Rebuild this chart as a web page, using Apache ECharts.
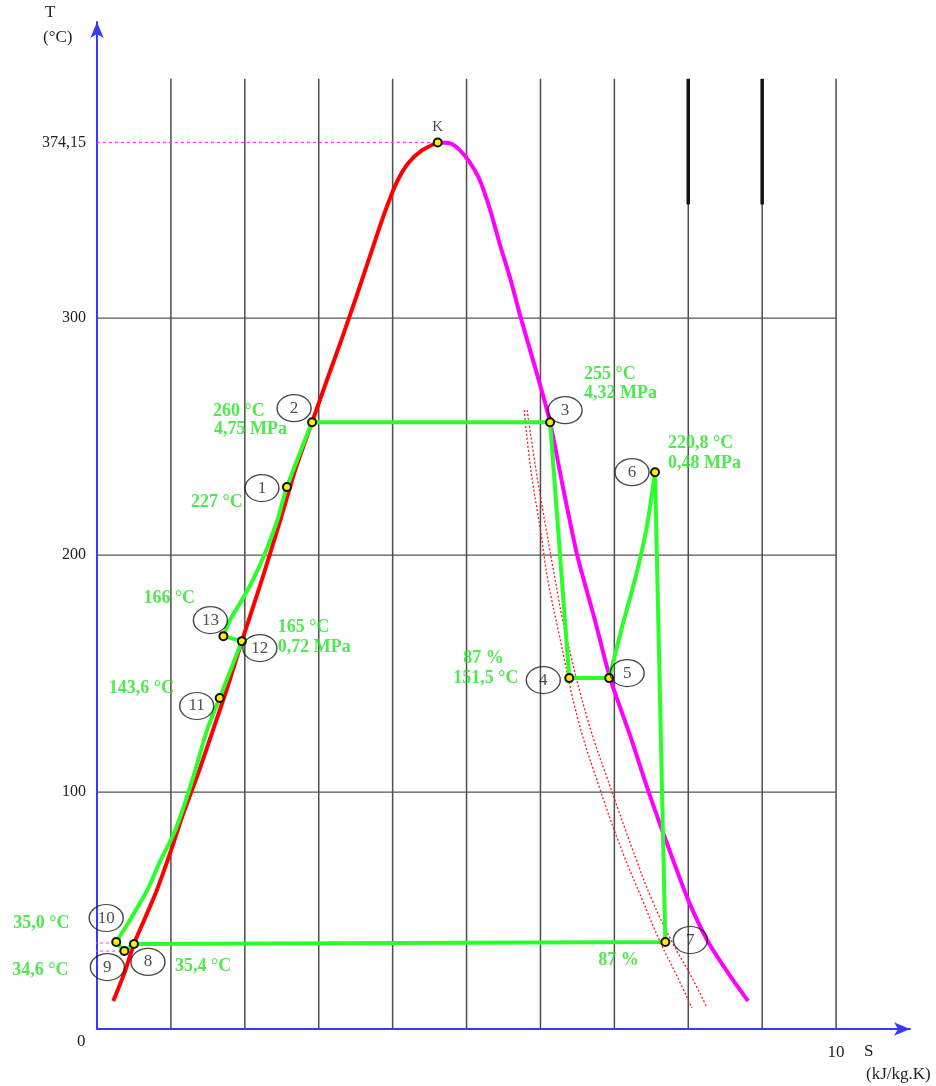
<!DOCTYPE html>
<html><head><meta charset="utf-8">
<script src="https://cdn.jsdelivr.net/npm/echarts@6/dist/echarts.min.js"></script>
<style>html,body{margin:0;padding:0;background:#fff}#c{width:936px;height:1086px}</style>
</head><body><div id="c"></div>
<script>
// ---------- data ----------
const xGridTicks = [1,2,3,4,5,6,7,8,9,10];
const yGridTicks = [100,200,300];
const yTickLabels = [100,200,300,374.15];
const xTickLabels = [0,10];
const gridTopT = 401;
const heavyTopS = [8,9];
const heavyTopFromT = 348;
const criticalT = 374.15;
const criticalS = 4.61;

// saturated liquid line (red), S [kJ/kg.K], T [°C]
const liquidLine = [[0.22,11.8],[0.37,23.6],[0.50,35.9],[0.65,46.8],[0.81,58.6],[0.99,74.3],[1.16,90.3],[1.37,108.0],[1.57,126.2],[1.77,144.7],[1.96,163.7],[2.23,189.5],[2.48,214.8],[2.69,236.7],[2.91,256.1],[3.11,273.8],[3.32,292.0],[3.52,310.1],[3.72,328.7],[3.88,343.5],[4.05,357.0],[4.21,365.4],[4.40,370.9],[4.61,374.15]];
// saturated vapour line (magenta)
const vaporLine = [[4.61,374.15],[4.78,373.8],[4.91,370.9],[5.05,365.4],[5.18,358.2],[5.32,345.6],[5.45,331.2],[5.59,316.9],[5.72,301.7],[5.86,286.5],[6.00,271.3],[6.13,256.1],[6.31,227.8],[6.50,199.6],[6.73,173.4],[6.94,148.3],[7.21,124.1],[7.46,100.4],[7.73,76.8],[8.00,54.4],[8.27,36.7],[8.54,23.6],[8.81,11.8]];
// expansion guide lines (red dotted)
const dottedA = [[5.78,261.2],[5.87,235.9],[6.00,210.5],[6.10,189.5],[6.24,168.4],[6.51,130.4],[6.81,100.8],[7.10,75.5],[7.38,54.4],[7.62,36.7],[7.84,22.8],[8.05,8.9]];
const dottedB = [[5.82,261.2],[5.94,235.9],[6.08,210.5],[6.20,189.5],[6.33,168.4],[6.64,130.4],[6.96,100.8],[7.25,75.5],[7.51,54.4],[7.78,36.7],[8.03,22.8],[8.25,9.3]];

// state points
const stateNames = ['1','2','3','4','5','6','7','8','9','10','11','12','13'];
const stateS = [2.57,2.91,6.13,6.39,6.93,7.55,7.69,0.50,0.37,0.26,1.66,1.96,1.71];
const stateT = [228.7,256.1,256.1,148.1,148.1,235.0,36.7,35.9,32.9,36.7,139.7,163.7,165.8];

// cycle path pieces (green)
const feedCurve = [[0.26,36.7],[0.38,42.6],[0.51,49.4],[0.68,58.6],[0.85,70.5],[1.06,84.0],[1.29,105.1],[1.49,126.2],[1.66,139.7],[1.96,163.7]];
const heaterLink = [[1.96,163.7],[1.71,165.8]];
const economiser = [[1.71,165.8],[1.80,172.6],[1.96,181.0],[2.11,189.5],[2.29,202.1],[2.44,214.8],[2.57,228.7],[2.91,256.1]];
const turbineHP = [[2.91,256.1],[6.13,256.1],[6.39,148.1],[6.93,148.1]];
const reheat = [[6.93,148.1],[7.10,169.2],[7.29,191.1],[7.43,210.5],[7.55,235.0]];
const turbineLP = [[7.55,235.0],[7.69,36.7],[0.50,35.9],[0.37,32.9],[0.26,36.7]];

// helper dashes
const critDash = [[0,374.15],[4.61,374.15]];
const dash10 = [[-0.12,36.3],[0.26,36.3]];
const dash9 = [[-0.12,32.9],[0.37,32.9]];

// annotations: state name, text
const annotations = [
  ['2','260 °C'],['2','4,75 MPa'],['1','227 °C'],
  ['3','255 °C'],['3','4,32 MPa'],
  ['6','220,8 °C'],['6','0,48 MPa'],
  ['13','166 °C'],['12','165 °C'],['12','0,72 MPa'],
  ['11','143,6 °C'],['4','87 %'],['4','151,5 °C'],
  ['10','35,0 °C'],['9','34,6 °C'],['8','35,4 °C'],['7','87 %']
];

// ---------- layout (pixel offsets) ----------
const bubbleOffset = {'1':[-25,1],'2':[-18,-14],'3':[15,-12],'4':[-26,2],'5':[18,-5],'6':[-23,0],'7':[25,-2],'8':[14,18],'9':[-17,16],'10':[-10,-24],'11':[-23,8],'12':[18,7],'13':[-13,-16]};
const annOffset = [[-99,-11],[-98,7],[-96,15],[34,-48],[34,-29],[13,-29],[13,-9],[-80,-38],[36,-14],[36,6],[-111,-10],[-106,-20],[-116,0],[-103,-19],[-112,19],[41,22],[-67,18]];

const GREEN_LINE = '#2bff2b';
const GREEN_TEXT = '#22e322';
const SERIF = '"Liberation Serif","DejaVu Serif",serif';

const chart = echarts.init(document.getElementById('c'), null, {renderer:'canvas'});

function line(data, style, z, smooth) {
  return {type:'line', data, symbol:'none', silent:true, clip:false, z, smooth: smooth||false,
          lineStyle: style, animation:false};
}

const series = [];
xGridTicks.forEach(s => series.push(line([[s,0],[s,gridTopT]], {color:'#4d4d4d', width:1.5}, 1)));
yGridTicks.forEach(t => series.push(line([[0,t],[10,t]], {color:'#555', width:1.2}, 1)));
heavyTopS.forEach(s => series.push(line([[s,heavyTopFromT],[s,gridTopT]], {color:'#111', width:3.5}, 1)));
series.push(line(critDash, {color:'#ff33ff', width:1.3, type:[3,3]}, 2));
series.push(line(dash10, {color:'#ff55ff', width:1.2, type:[3,3]}, 2));
series.push(line(dash9, {color:'#ff55ff', width:1.2, type:[3,3]}, 2));
series.push(line(dottedA, {color:'#ff1a1a', width:1.3, type:[2,2]}, 2, 0.4));
series.push(line(dottedB, {color:'#ff1a1a', width:1.3, type:[2,2]}, 2, 0.4));
series.push(line(liquidLine, {color:'#ff0000', width:4, join:'round'}, 3, 0.25));
series.push(line(vaporLine, {color:'#ff00ff', width:4, join:'round'}, 3, 0.25));
[feedCurve, economiser, reheat].forEach(d => series.push(line(d, {color:GREEN_LINE, width:4, cap:'round'}, 4, 0.3)));
[heaterLink, turbineHP, turbineLP].forEach(d => series.push(line(d, {color:GREEN_LINE, width:4, cap:'round', join:'round'}, 4)));

// markers
const markerData = stateNames.map((n,i)=>[stateS[i], stateT[i]]).concat([[criticalS, criticalT]]);
series.push({type:'scatter', data: markerData, symbol:'circle', symbolSize:8, z:6, silent:true, animation:false,
  itemStyle:{color:'#ffee00', borderColor:'#111', borderWidth:2, opacity:1}});
// K label
series.push({type:'scatter', data:[{value:[criticalS, criticalT], name:'K'}], symbolSize:1, z:6, silent:true, animation:false,
  itemStyle:{color:'rgba(0,0,0,0)'},
  label:{show:true, position:'top', distance:7, formatter:'K', color:'#222', fontFamily:SERIF, fontSize:15}});
// bubbles
series.push({type:'scatter', z:7, silent:true, animation:false,
  data: stateNames.map((n,i)=>({value:[stateS[i], stateT[i]], name:n, symbolOffset: bubbleOffset[n]})),
  symbol:'circle', symbolSize:[34,27],
  itemStyle:{color:'rgba(255,255,255,0)', borderColor:'#1a1a1a', borderWidth:1.3},
  label:{show:true, position:'inside', formatter: p=>p.name, color:'#222', fontFamily:SERIF, fontSize:17}});
// annotations
series.push({type:'scatter', z:8, silent:true, animation:false,
  data: annotations.map((a,i)=>{const k=stateNames.indexOf(a[0]); return {value:[stateS[k], stateT[k]], name:a[1],
    label:{position:[annOffset[i][0]+0.5, annOffset[i][1]+0.5]}};}),
  symbolSize:1, itemStyle:{color:'rgba(0,0,0,0)'},
  label:{show:true, formatter:p=>p.name, color:GREEN_TEXT, fontFamily:SERIF, fontWeight:'bold', fontSize:18, align:'left', verticalAlign:'middle'}});

const option = {
  backgroundColor:'#fff',
  animation:false,
  grid:{left:97, right:26, top:22, bottom:57},
  xAxis:{type:'value', min:0, max:11,
    axisLine:{show:true, onZero:false, lineStyle:{color:'#3838ff', width:2}, symbol:['none','arrow'], symbolSize:[10,16]},
    axisTick:{show:false}, splitLine:{show:false},
    axisLabel:{show:true, customValues:xTickLabels.filter(v=>v!==0), margin:15, color:'#222', fontFamily:SERIF, fontSize:17}},
  yAxis:{type:'value', min:0, max:425,
    axisLine:{show:true, onZero:false, lineStyle:{color:'#3838ff', width:2}, symbol:['none','arrow'], symbolSize:[10,16]},
    axisTick:{show:false}, splitLine:{show:false},
    axisLabel:{show:true, customValues:yTickLabels, margin:11, color:'#222', fontFamily:SERIF, fontSize:16,
      formatter:v=>String(v).replace('.',',')}},
  graphic:[
    {type:'text', left:45, top:4, style:{text:'T', fill:'#222', font:'17px '+SERIF}},
    {type:'text', left:43, top:29, style:{text:'(°C)', fill:'#222', font:'17px '+SERIF}},
    {type:'text', left:77, top:1033, style:{text:String(xTickLabels[0]), fill:'#222', font:'17px '+SERIF}},
    {type:'text', left:864, top:1043, style:{text:'S', fill:'#222', font:'17px '+SERIF}},
    {type:'text', left:866, top:1066, style:{text:'(kJ/kg.K)', fill:'#222', font:'17px '+SERIF}}
  ],
  series
};
chart.setOption(option);
</script></body></html>
